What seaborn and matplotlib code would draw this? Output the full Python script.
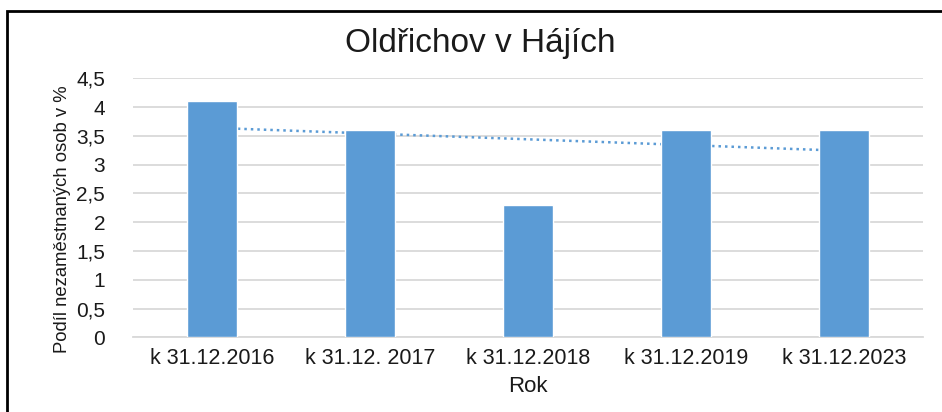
import numpy as np
import pandas as pd
import matplotlib.pyplot as plt
import seaborn as sns
from matplotlib.patches import Rectangle

# data
roky = ['k 31.12.2016', 'k 31.12. 2017', 'k 31.12.2018', 'k 31.12.2019', 'k 31.12.2023']
podil = [4.1, 3.6, 2.3, 3.6, 3.6]
y_ticks = [0, 0.5, 1, 1.5, 2, 2.5, 3, 3.5, 4, 4.5]

df = pd.DataFrame({'Rok': roky, 'Podil': podil})

sns.set_theme(style='white')
plt.rcParams['font.family'] = ['Liberation Sans', 'DejaVu Sans']
text_color = '#1a1a1a'
bar_color = '#5b9bd5'

fig = plt.figure(figsize=(9.42, 4.12), dpi=100)
ax = fig.add_axes([0.141, 0.1813, 0.8387, 0.6287])

sns.barplot(data=df, x='Rok', y='Podil', color=bar_color, saturation=1,
            width=0.316, ax=ax, zorder=3)

# linear trend line (dotted)
xi = np.arange(len(podil))
k, q = np.polyfit(xi, podil, 1)
ax.plot(xi, k * xi + q, linestyle=(0, (1, 1.6)), color=bar_color, lw=1.8, zorder=2)

ax.set_xlim(-0.5, len(roky) - 0.5)
ax.set_ylim(0, 4.5)
ax.set_yticks(y_ticks)
ax.set_yticklabels([f'{t:g}'.replace('.', ',') for t in y_ticks])
ax.yaxis.grid(True, color='#d9d9d9', lw=1.3, zorder=0)
ax.set_axisbelow(True)
for s in ['top', 'right', 'left']:
    ax.spines[s].set_visible(False)
ax.spines['bottom'].set_color('#d9d9d9')
ax.spines['bottom'].set_linewidth(1.3)

ax.tick_params(axis='y', length=0, pad=20, labelsize=15, labelcolor=text_color)
ax.tick_params(axis='x', length=0, pad=8, labelsize=15.5, labelcolor=text_color)

ax.set_title('Oldřichov v Hájích', fontsize=24, color=text_color, pad=19, x=0.44)
ax.set_ylabel('Podíl nezaměstnaných osob v %', fontsize=13.3, color=text_color)
ax.set_xlabel('Rok', fontsize=16, color=text_color)
ax.yaxis.set_label_coords(-0.078, 0.457)
ax.xaxis.set_label_coords(0.5, -0.148)

# black frame around the chart (runs off right and bottom)
fig.patches.append(Rectangle((7 / 942, -0.2), 1.2, 1.2 - 11 / 412,
                             transform=fig.transFigure, fill=False,
                             edgecolor='black', lw=2))

plt.savefig('out.png', dpi=100)
